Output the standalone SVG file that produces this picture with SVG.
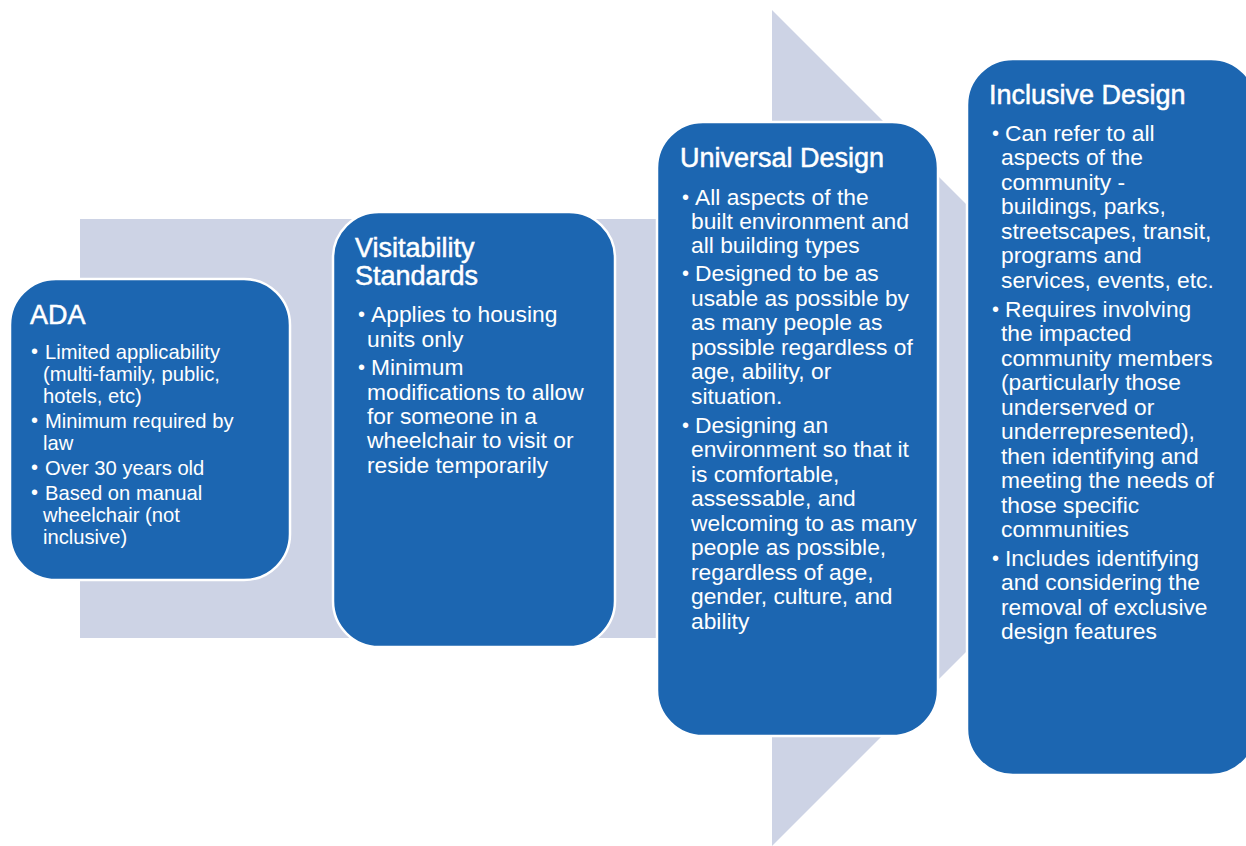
<svg xmlns="http://www.w3.org/2000/svg" width="1246" height="846" viewBox="0 0 1246 846">
  <style>
    .box { fill: #1C66B1; stroke: #FFFFFF; stroke-width: 2.5; }
    .title { font-family: "Liberation Sans", Arial, sans-serif; fill: #FFFFFF; stroke: #FFFFFF; stroke-width: 0.5; font-size: 27px; }
    .body { font-family: "Liberation Sans", Arial, sans-serif; fill: #FFFFFF; font-size: 22.8px; }
    .small { font-size: 20.2px; }
    .dot { font-size: 20px; }
  </style>

  <!-- background process arrow -->
  <g id="arrow">
    <polygon points="80,219 772,219 772,10 1190,428 772,846 772,638 80,638" fill="#CDD3E5"/>
  </g>

  <g id="connectors"></g>

  <!-- ADA -->
  <g id="node-ada">
    <rect class="box" x="10" y="279" width="280" height="301" rx="46" ry="46"/>
    <text class="title" x="30" y="324">ADA</text>
    <text class="body small">
      <tspan class="dot" x="31" y="358">•</tspan><tspan x="45" y="359">Limited applicability</tspan>
      <tspan x="43" y="381">(multi-family, public,</tspan>
      <tspan x="43" y="403">hotels, etc)</tspan>
      <tspan class="dot" x="31" y="427">•</tspan><tspan x="45" y="428">Minimum required by</tspan>
      <tspan x="43" y="450">law</tspan>
      <tspan class="dot" x="31" y="474">•</tspan><tspan x="45" y="475">Over 30 years old</tspan>
      <tspan class="dot" x="31" y="499">•</tspan><tspan x="45" y="500">Based on manual</tspan>
      <tspan x="43" y="522">wheelchair (not</tspan>
      <tspan x="43" y="544">inclusive)</tspan>
    </text>
  </g>

  <!-- Visitability Standards -->
  <g id="node-visitability">
    <rect class="box" x="333" y="212" width="282" height="435" rx="46" ry="46"/>
    <text class="title">
      <tspan x="355" y="257">Visitability</tspan>
      <tspan x="355" y="285">Standards</tspan>
    </text>
    <text class="body">
      <tspan class="dot" x="358" y="321">•</tspan><tspan x="371" y="322">Applies to housing</tspan>
      <tspan x="367" y="347">units only</tspan>
      <tspan class="dot" x="358" y="374">•</tspan><tspan x="371" y="375">Minimum</tspan>
      <tspan x="367" y="400">modifications to allow</tspan>
      <tspan x="367" y="424">for someone in a</tspan>
      <tspan x="367" y="448">wheelchair to visit or</tspan>
      <tspan x="367" y="473">reside temporarily</tspan>
    </text>
  </g>

  <!-- Universal Design -->
  <g id="node-universal">
    <rect class="box" x="657" y="122" width="281" height="614" rx="46" ry="46"/>
    <text class="title" x="680" y="167">Universal Design</text>
    <text class="body">
      <tspan class="dot" x="682" y="204">•</tspan><tspan x="695" y="205">All aspects of the</tspan>
      <tspan x="691" y="229">built environment and</tspan>
      <tspan x="691" y="253">all building types</tspan>
      <tspan class="dot" x="682" y="280">•</tspan><tspan x="695" y="281">Designed to be as</tspan>
      <tspan x="691" y="306">usable as possible by</tspan>
      <tspan x="691" y="330">as many people as</tspan>
      <tspan x="691" y="355">possible regardless of</tspan>
      <tspan x="691" y="379">age, ability, or</tspan>
      <tspan x="691" y="404">situation.</tspan>
      <tspan class="dot" x="682" y="432">•</tspan><tspan x="695" y="433">Designing an</tspan>
      <tspan x="691" y="457">environment so that it</tspan>
      <tspan x="691" y="482">is comfortable,</tspan>
      <tspan x="691" y="506">assessable, and</tspan>
      <tspan x="691" y="531">welcoming to as many</tspan>
      <tspan x="691" y="555">people as possible,</tspan>
      <tspan x="691" y="580">regardless of age,</tspan>
      <tspan x="691" y="604">gender, culture, and</tspan>
      <tspan x="691" y="629">ability</tspan>
    </text>
  </g>

  <!-- Inclusive Design -->
  <g id="node-inclusive">
    <rect class="box" x="967" y="59" width="290" height="716" rx="46" ry="46"/>
    <text class="title" x="989" y="104">Inclusive Design</text>
    <text class="body">
      <tspan class="dot" x="992" y="140">•</tspan><tspan x="1005" y="141">Can refer to all</tspan>
      <tspan x="1001" y="165">aspects of the</tspan>
      <tspan x="1001" y="190">community -</tspan>
      <tspan x="1001" y="214">buildings, parks,</tspan>
      <tspan x="1001" y="239">streetscapes, transit,</tspan>
      <tspan x="1001" y="263">programs and</tspan>
      <tspan x="1001" y="288">services, events, etc.</tspan>
      <tspan class="dot" x="992" y="316">•</tspan><tspan x="1005" y="317">Requires involving</tspan>
      <tspan x="1001" y="341">the impacted</tspan>
      <tspan x="1001" y="366">community members</tspan>
      <tspan x="1001" y="390">(particularly those</tspan>
      <tspan x="1001" y="415">underserved or</tspan>
      <tspan x="1001" y="439">underrepresented),</tspan>
      <tspan x="1001" y="464">then identifying and</tspan>
      <tspan x="1001" y="488">meeting the needs of</tspan>
      <tspan x="1001" y="513">those specific</tspan>
      <tspan x="1001" y="537">communities</tspan>
      <tspan class="dot" x="992" y="565">•</tspan><tspan x="1005" y="566">Includes identifying</tspan>
      <tspan x="1001" y="590">and considering the</tspan>
      <tspan x="1001" y="615">removal of exclusive</tspan>
      <tspan x="1001" y="639">design features</tspan>
    </text>
  </g>
</svg>
